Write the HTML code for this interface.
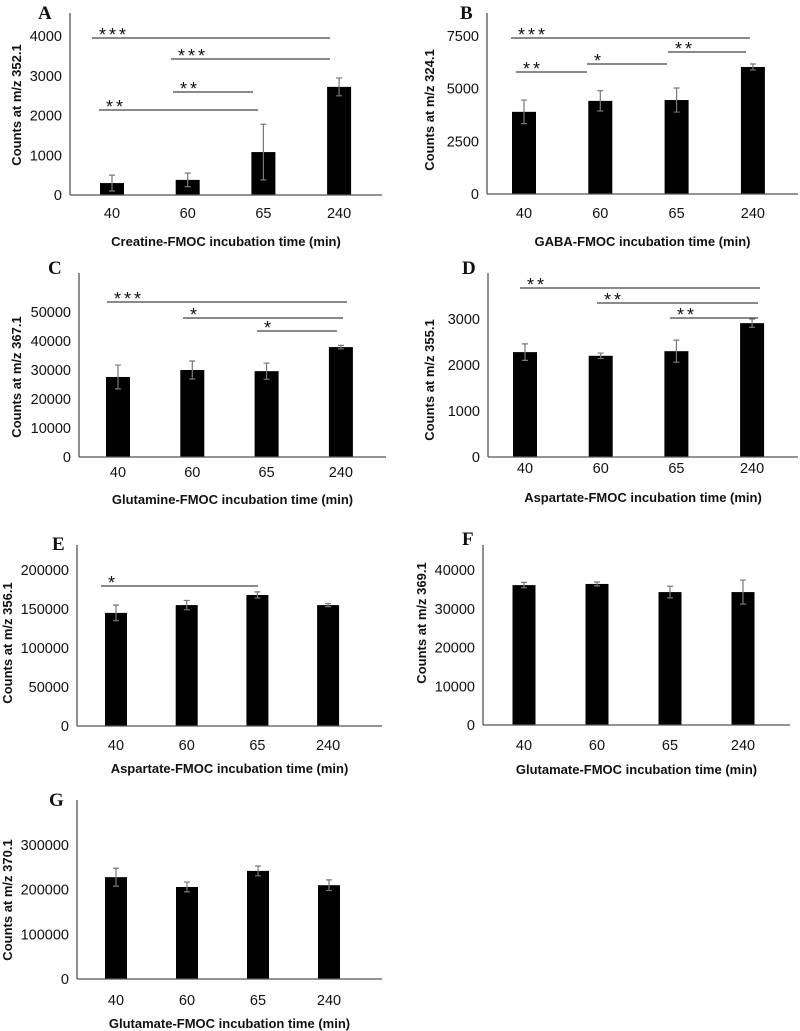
<!DOCTYPE html>
<html><head><meta charset="utf-8"><style>
html,body{margin:0;padding:0;background:#fff;}
svg{display:block;}
.tk{font-family:"Liberation Sans",sans-serif;font-size:14.5px;fill:#111;}
.tt{font-family:"Liberation Sans",sans-serif;font-size:13px;font-weight:bold;fill:#111;}
.lt{font-family:"Liberation Serif",serif;font-size:19px;font-weight:bold;fill:#111;}
.st{font-family:"Liberation Sans",sans-serif;font-size:18px;fill:#111;letter-spacing:3px;}
</style></head><body>
<svg id="fig" width="800" height="1031" viewBox="0 0 800 1031" xmlns="http://www.w3.org/2000/svg"></svg>
<script>
const categories = ["40","60","65","240"];
const valsA = [300, 380, 1080, 2720];
const errsA = [200, 170, 700, 225];
const ticksA = [0, 1000, 2000, 3000, 4000];
const valsB = [3900, 4420, 4460, 6030];
const errsB = [560, 480, 570, 140];
const ticksB = [0, 2500, 5000, 7500];
const valsC = [27600, 30000, 29600, 37900];
const errsC = [4100, 3100, 2800, 600];
const ticksC = [0, 10000, 20000, 30000, 40000, 50000];
const valsD = [2280, 2200, 2300, 2910];
const errsD = [180, 60, 240, 90];
const ticksD = [0, 1000, 2000, 3000];
const valsE = [145000, 155000, 168000, 155000];
const errsE = [10000, 6000, 4000, 2000];
const ticksE = [0, 50000, 100000, 150000, 200000];
const valsF = [36100, 36400, 34300, 34300];
const errsF = [700, 500, 1500, 3100];
const ticksF = [0, 10000, 20000, 30000, 40000];
const valsG = [228000, 206000, 242000, 210000];
const errsG = [20000, 11000, 11000, 12000];
const ticksG = [0, 100000, 200000, 300000];

const panels = [
 {id:"a",letter:"A",vals:valsA,errs:errsA,ticks:ticksA,ax:70,top:13,base:195,topTickY:36,right:382,x0:112,step:75.7,bw:24,lblY:218,titleY:246,
  title:"Creatine-FMOC incubation time (min)",ytitle:"Counts at m/z 352.1",ytx:21,yty:105,lx:38,ly:19,
  sig:[["***",92,330,38],["***",171,330,59],["**",173,253,92],["**",99,258,110]]},
 {id:"b",letter:"B",vals:valsB,errs:errsB,ticks:ticksB,ax:487,top:13,base:194,topTickY:36,right:798,x0:524,step:76.3,bw:24,lblY:218,titleY:246,
  title:"GABA-FMOC incubation time (min)",ytitle:"Counts at m/z 324.1",ytx:434,yty:110,lx:460,ly:19,
  sig:[["***",511,750,38],["**",668,746,52],["*",587,667,64],["**",516,587,72]]},
 {id:"c",letter:"C",vals:valsC,errs:errsC,ticks:ticksC,ax:79,top:273,base:457,topTickY:312,right:386,x0:118,step:74.3,bw:24,lblY:477,titleY:504,
  title:"Glutamine-FMOC incubation time (min)",ytitle:"Counts at m/z 367.1",ytx:21,yty:377,lx:48,ly:274,
  sig:[["***",107,347,302],["*",183,343,318],["*",257,337,331]]},
 {id:"d",letter:"D",vals:valsD,errs:errsD,ticks:ticksD,ax:488,top:273,base:457,topTickY:319,right:798,x0:525,step:75.7,bw:24,lblY:473,titleY:502,
  title:"Aspartate-FMOC incubation time (min)",ytitle:"Counts at m/z 355.1",ytx:434,yty:380,lx:462,ly:274,
  sig:[["**",520,760,288],["**",597,758,303],["**",670,758,318]]},
 {id:"e",letter:"E",vals:valsE,errs:errsE,ticks:ticksE,ax:77,top:545,base:726,topTickY:570,right:382,x0:116,step:70.7,bw:22,lblY:750,titleY:773,
  title:"Aspartate-FMOC incubation time (min)",ytitle:"Counts at m/z 356.1",ytx:12,yty:643,lx:52,ly:550,
  sig:[["*",101,258,586]]},
 {id:"f",letter:"F",vals:valsF,errs:errsF,ticks:ticksF,ax:483,top:545,base:725,topTickY:570,right:790,x0:524,step:73,bw:23,lblY:750,titleY:774,
  title:"Glutamate-FMOC incubation time (min)",ytitle:"Counts at m/z 369.1",ytx:426,yty:623,lx:462,ly:545,
  sig:[]},
 {id:"g",letter:"G",vals:valsG,errs:errsG,ticks:ticksG,ax:77,top:800,base:979,topTickY:845,right:382,x0:116,step:71,bw:22,lblY:1005,titleY:1028,
  title:"Glutamate-FMOC incubation time (min)",ytitle:"Counts at m/z 370.1",ytx:12,yty:900,lx:49,ly:806,
  sig:[]}
];

const NS = "http://www.w3.org/2000/svg";
const fig = document.getElementById("fig");
function mk(tag, attrs, parent, text){
  const e = document.createElementNS(NS, tag);
  for (const k in attrs) e.setAttribute(k, attrs[k]);
  if (text !== undefined) e.textContent = text;
  parent.appendChild(e);
  return e;
}

panels.forEach(p => {
  const g = mk("g", {}, fig);
  
  
  const tmax = p.ticks[p.ticks.length-1];
  const yScale = v => p.base - (v / tmax) * (p.base - p.topTickY);
  const xScale = i => p.x0 + i * p.step;

  const L = mk("text", {x:p.lx, y:p.ly, class:"lt"}, g, p.letter);
  
  

  p.ticks.forEach(t => {
    const tl = mk("text", {x:p.ax-8, y:yScale(t)+5, class:"tk", "text-anchor":"end"}, g, String(t));
    
    
  });

  p.vals.forEach((v, i) => {
    const cx = xScale(i);
    const y = yScale(v);
    const bar = mk("rect", {x:cx-p.bw/2, y:y, width:p.bw, height:p.base-y, fill:"#000"}, g);
    
    
    const yt = yScale(v + p.errs[i]), yb = yScale(v - p.errs[i]);
    const eb = mk("path", {d:`M${cx},${yt}V${yb}M${cx-3},${yt}H${cx+3}M${cx-3},${yb}H${cx+3}`, stroke:"#777", "stroke-width":1.2, fill:"none"}, g);
    
    
    const xl = mk("text", {x:cx, y:p.lblY, class:"tk", "text-anchor":"middle"}, g, categories[i]);
    
    
  });

  const ya = mk("line", {x1:p.ax, y1:p.top, x2:p.ax, y2:p.base, stroke:"#555", "stroke-width":1.3}, g);
  
  
  const xa = mk("line", {x1:p.ax, y1:p.base, x2:p.right, y2:p.base, stroke:"#555", "stroke-width":1.3}, g);
  
  

  const xt = mk("text", {x:(p.ax+p.right)/2, y:p.titleY, class:"tt", "text-anchor":"middle"}, g, p.title);
  
  
  const yt = mk("text", {x:0, y:0, class:"tt", "text-anchor":"middle", transform:`translate(${p.ytx},${p.yty}) rotate(-90)`}, g, p.ytitle);
  
  

  p.sig.forEach(s => {
    const ln = mk("line", {x1:s[1], y1:s[3], x2:s[2], y2:s[3], stroke:"#444", "stroke-width":1.2}, g);
    
    
    const st = mk("text", {x:s[1]+7, y:s[3]+3, class:"st"}, g, s[0]);
    
    
  });
});
</script>
</body></html>
